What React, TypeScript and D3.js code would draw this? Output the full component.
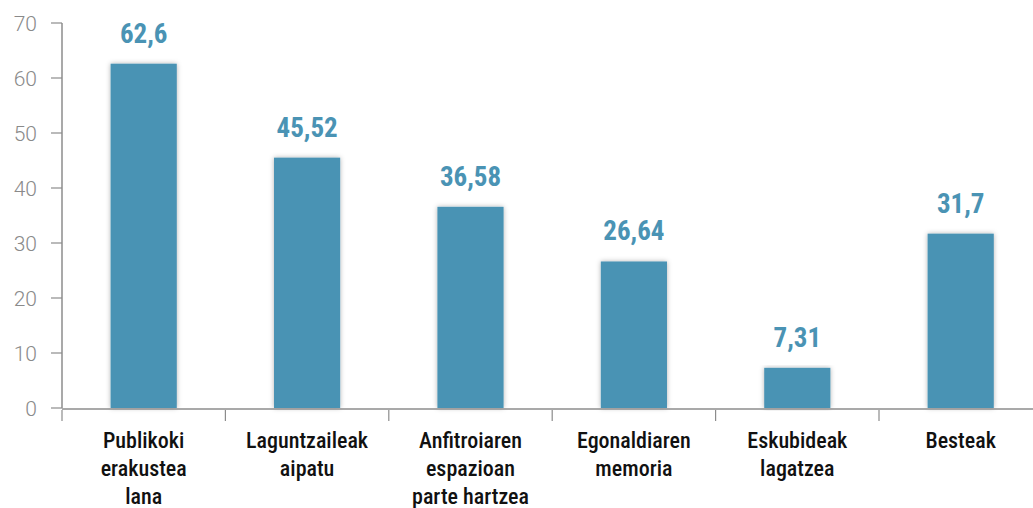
import * as d3 from 'd3';
import {useEffect, useRef} from 'react';

const categories = [
  ['Publikoki', 'erakustea', 'lana'],
  ['Laguntzaileak', 'aipatu'],
  ['Anfitroiaren', 'espazioan', 'parte hartzea'],
  ['Egonaldiaren', 'memoria'],
  ['Eskubideak', 'lagatzea'],
  ['Besteak'],
];
const values = [62.6, 45.52, 36.58, 26.64, 7.31, 31.7];
const yTicks = [0, 10, 20, 30, 40, 50, 60, 70];

const WIDTH = 1033;
const HEIGHT = 508;
const FONT = "'Roboto Condensed', 'Liberation Sans Narrow', Roboto, sans-serif";
const BLUE = '#4a93b4';

const draw = (node: SVGSVGElement) => {
  const svg = d3.select(node);
  svg.selectAll('*').remove();

  const margin = {top: 23, left: 62, bottom: 100};
  const keys = categories.map((c, i) => String(i));

  const x = d3
    .scaleBand()
    .domain(keys)
    .range([margin.left, margin.left + 6 * 163.4])
    .paddingInner(0.595)
    .paddingOuter(0.2975);

  const y = d3
    .scaleLinear()
    .domain([0, 70])
    .range([HEIGHT - margin.bottom, margin.top]);

  // soft shadow under the bars
  const defs = svg.append('defs');
  const filter = defs
    .append('filter')
    .attr('id', 'shadow')
    .attr('x', '-20%')
    .attr('y', '-5%')
    .attr('width', '140%')
    .attr('height', '110%');
  filter
    .append('feDropShadow')
    .attr('dx', 0)
    .attr('dy', 0)
    .attr('stdDeviation', 2.5)
    .attr('flood-color', '#000')
    .attr('flood-opacity', 0.3);

  // bars
  svg
    .append('g')
    .selectAll('rect')
    .data(values)
    .enter()
    .append('rect')
    .attr('x', (d, i) => x(String(i)))
    .attr('y', d => y(d))
    .attr('width', x.bandwidth())
    .attr('height', d => y(0) - y(d))
    .attr('fill', BLUE)
    .attr('filter', 'url(#shadow)');

  // value labels
  svg
    .append('g')
    .selectAll('text')
    .data(values)
    .enter()
    .append('text')
    .attr('x', (d, i) => x(String(i)) + x.bandwidth() / 2)
    .attr('y', d => y(d) - 21)
    .attr('text-anchor', 'middle')
    .attr('font-family', FONT)
    .attr('font-weight', 'bold')
    .attr('font-size', 27)
    .attr('fill', BLUE)
    .text(d => String(d).replace('.', ','));

  // y axis
  const yAxis = svg.append('g');
  yAxis
    .append('line')
    .attr('x1', margin.left)
    .attr('x2', margin.left)
    .attr('y1', y(70))
    .attr('y2', y(0))
    .attr('stroke', '#8c8c8c')
    .attr('stroke-width', 1.5);
  const yt = yAxis
    .selectAll('g')
    .data(yTicks)
    .enter()
    .append('g')
    .attr('transform', d => `translate(0, ${y(d)})`);
  yt.append('line')
    .attr('x1', margin.left - 11)
    .attr('x2', margin.left)
    .attr('stroke', '#8c8c8c')
    .attr('stroke-width', 1.2);
  yt.append('text')
    .attr('x', margin.left - 25)
    .attr('dy', '0.36em')
    .attr('text-anchor', 'end')
    .attr('font-family', 'Roboto, sans-serif')
    .attr('font-weight', 300)
    .attr('font-size', 21)
    .attr('fill', '#8a8a8a')
    .text(d => d);

  // x axis
  const xAxis = svg.append('g');
  xAxis
    .append('line')
    .attr('x1', margin.left)
    .attr('x2', WIDTH)
    .attr('y1', y(0) + 1)
    .attr('y2', y(0) + 1)
    .attr('stroke', '#8c8c8c')
    .attr('stroke-width', 1.5);
  xAxis
    .selectAll('line.tick')
    .data(keys)
    .enter()
    .append('line')
    .attr('class', 'tick')
    .attr('x1', d => x(d) - x.step() * x.paddingOuter())
    .attr('x2', d => x(d) - x.step() * x.paddingOuter())
    .attr('y1', y(0) + 2)
    .attr('y2', y(0) + 13)
    .attr('stroke', '#8c8c8c')
    .attr('stroke-width', 1.2);

  const labels = xAxis
    .selectAll('text')
    .data(categories)
    .enter()
    .append('text')
    .attr('x', (d, i) => x(String(i)) + x.bandwidth() / 2)
    .attr('y', y(0) + 40)
    .attr('text-anchor', 'middle')
    .attr('font-family', FONT)
    .attr('font-weight', 500)
    .attr('font-size', 22)
    .attr('fill', '#111');
  labels
    .selectAll('tspan')
    .data((d, i) => d.map(t => ({t, i})))
    .enter()
    .append('tspan')
    .attr('x', d => x(String(d.i)) + x.bandwidth() / 2)
    .attr('dy', (d, j) => (j === 0 ? 0 : 28))
    .text(d => d.t);
};

export default function App() {
  const ref = useRef<SVGSVGElement>(null);
  useEffect(() => {
    if (ref.current) draw(ref.current);
  }, []);
  return (
    <svg
      ref={ref}
      width={WIDTH}
      height={HEIGHT}
      style={{position: 'absolute', left: 0, top: 0, background: '#fff'}}
    />
  );
}
